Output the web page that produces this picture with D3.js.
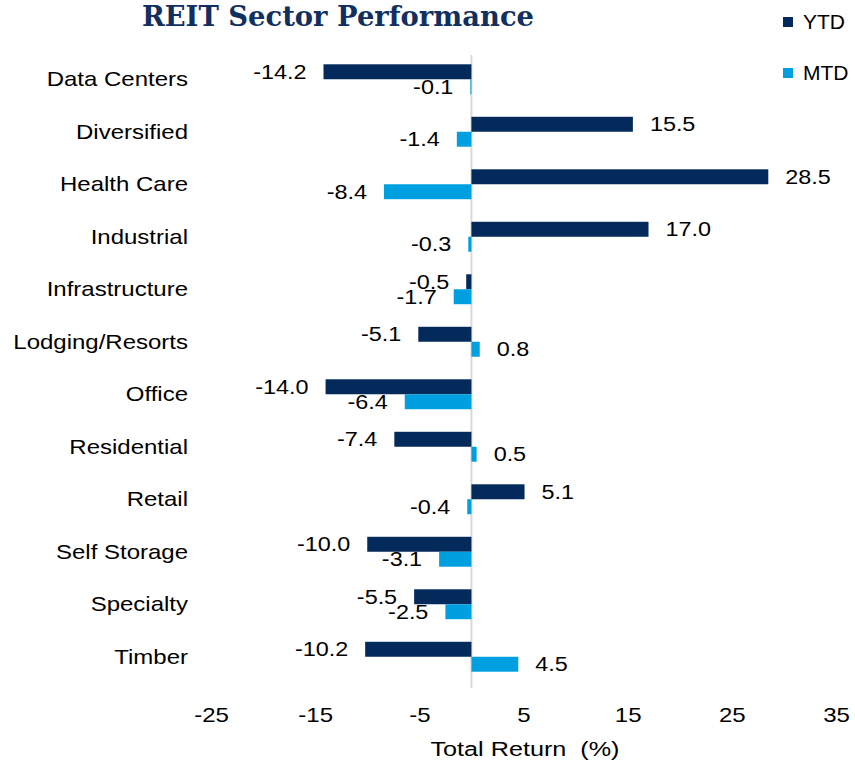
<!DOCTYPE html>
<html>
<head>
<meta charset="utf-8">
<script src="https://cdn.jsdelivr.net/npm/d3@7"></script>
<style>
  html, body { margin: 0; padding: 0; background: #fff; }
  svg { display: block; }
</style>
</head>
<body>
<svg id="chart" width="855" height="763"></svg>
<script>
// REIT sectors and their total returns (%)
const sectors = ["Data Centers", "Diversified", "Health Care", "Industrial", "Infrastructure",
  "Lodging/Resorts", "Office", "Residential", "Retail", "Self Storage", "Specialty", "Timber"];
const ytd = [-14.2, 15.5, 28.5, 17.0, -0.5, -5.1, -14.0, -7.4, 5.1, -10.0, -5.5, -10.2];
const mtd = [-0.1, -1.4, -8.4, -0.3, -1.7, 0.8, -6.4, 0.5, -0.4, -3.1, -2.5, 4.5];
const xTicks = [-25, -15, -5, 5, 15, 25, 35];
const seriesNames = ["YTD", "MTD"];
const colors = { YTD: "#032a5a", MTD: "#00a0e0" };

const svg = d3.select("#chart");
const font = "'Liberation Sans', Arial, sans-serif";
const stretch = 1.2; // horizontally widened label text

const x = d3.scaleLinear().domain([-25, 35]).range([211, 836]);
const y = d3.scaleBand().domain(sectors).range([53, 683]).paddingInner(0.43).paddingOuter(0.215);
const sub = d3.scaleBand().domain(seriesNames).range([0, y.bandwidth()]);

// Widened text placed at (px, py)
function wideText(sel, px, py, size) {
  return sel.append("text")
    .attr("transform", d => `translate(${px(d)},${py(d)}) scale(${stretch},1)`)
    .attr("dy", "0.35em")
    .attr("font-family", font).attr("font-size", size).attr("fill", "#000");
}

// Title
svg.append("text")
  .attr("x", 338).attr("y", 26)
  .attr("text-anchor", "middle")
  .attr("font-family", "'DejaVu Serif', 'Liberation Serif', serif")
  .attr("font-weight", "bold")
  .attr("font-size", 27.4)
  .attr("fill", "#12305f")
  .text("REIT Sector Performance");

// Zero line
svg.append("line")
  .attr("x1", x(0)).attr("x2", x(0))
  .attr("y1", 55).attr("y2", 688)
  .attr("stroke", "#d9d9d9").attr("stroke-width", 2);

const rows = sectors.map((s, i) => ({ sector: s, YTD: ytd[i], MTD: mtd[i] }));

const g = svg.append("g");
seriesNames.forEach(name => {
  const bars = g.selectAll(".bar-" + name).data(rows).enter();
  bars.append("rect")
    .attr("x", d => x(Math.min(0, d[name])))
    .attr("width", d => Math.abs(x(d[name]) - x(0)))
    .attr("y", d => y(d.sector) + sub(name))
    .attr("height", sub.bandwidth())
    .attr("fill", colors[name]);
  wideText(bars,
      d => d[name] < 0 ? x(d[name]) - 17 : x(d[name]) + 17,
      d => y(d.sector) + sub(name) + sub.bandwidth() / 2, 19.5)
    .attr("text-anchor", d => d[name] < 0 ? "end" : "start")
    .text(d => d[name].toFixed(1));
});

// Category labels
wideText(svg.selectAll(".cat").data(sectors).enter(),
    () => 188, d => y(d) + y.bandwidth() / 2, 20)
  .attr("text-anchor", "end")
  .text(d => d);

// X axis tick labels (no axis line)
const xAxis = d3.axisBottom(x).tickValues(xTicks).tickSize(0).tickPadding(0).tickFormat(d => String(d));
const ax = svg.append("g").attr("transform", "translate(0,715)").call(xAxis);
ax.select(".domain").remove();
ax.selectAll("text")
  .attr("dy", "0.35em")
  .attr("transform", `scale(${stretch},1)`)
  .attr("font-family", font).attr("font-size", 20).attr("fill", "#000");

wideText(svg.selectAll(".xtitle").data([0]).enter(), () => 525, () => 749, 21)
  .attr("text-anchor", "middle")
  .attr("xml:space", "preserve")
  .text("Total Return  (%)");

// Legend
const legend = svg.append("g");
seriesNames.forEach((name, i) => {
  const ly = 22 + i * 51;
  legend.append("rect").attr("x", 783).attr("y", ly - 5).attr("width", 10).attr("height", 10).attr("fill", colors[name]);
  legend.append("text").attr("x", 803).attr("y", ly).attr("dy", "0.35em")
    .attr("font-family", font).attr("font-size", 21).attr("fill", "#000").text(name);
});
</script>
</body>
</html>
